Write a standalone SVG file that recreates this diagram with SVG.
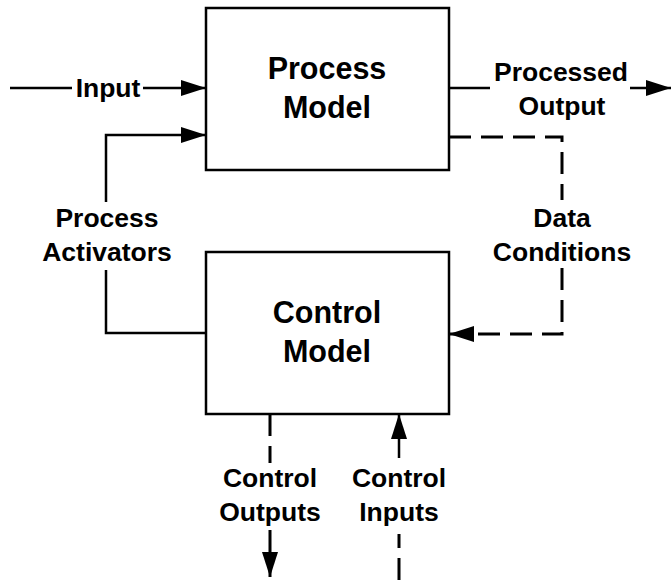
<svg xmlns="http://www.w3.org/2000/svg" width="671" height="580" viewBox="0 0 671 580">
<style>
.box{fill:#fff;stroke:#000;stroke-width:2.5}
.ln{fill:none;stroke:#000;stroke-width:2.5}
.dl{fill:none;stroke:#000;stroke-width:3;stroke-dasharray:22 10}
.bt{font-family:"Liberation Sans",Arial,sans-serif;font-weight:bold;font-size:30.5px;text-anchor:middle;fill:#000}
.lt{font-family:"Liberation Sans",Arial,sans-serif;font-weight:bold;font-size:26.5px;text-anchor:middle;fill:#000}
</style>
<defs>
<marker id="ah" markerUnits="userSpaceOnUse" markerWidth="25" markerHeight="17" refX="25" refY="8" orient="auto" viewBox="0 0 25 16">
<path d="M0,0 L25,8 L0,16 z" fill="#000"/>
</marker>
</defs>
<g id="connectors">
<path class="ln" d="M10,88 H72"/>
<path class="ln" d="M143,88 H206" marker-end="url(#ah)"/>
<path class="ln" d="M206,333 H106 V270"/>
<path class="ln" d="M106,202 V135 H206" marker-end="url(#ah)"/>
<path class="ln" d="M449,88 H490"/>
<path class="ln" d="M630,88 H671" marker-end="url(#ah)"/>
<path class="dl" d="M449,137 H562 V200"/>
<path class="dl" d="M562,268 V334 H449" marker-end="url(#ah)"/>
<path class="dl" d="M270,414 V463"/>
<path class="dl" d="M270,530 V577" marker-end="url(#ah)"/>
<path class="ln" d="M399,458 V414" marker-end="url(#ah)"/>
<path class="dl" d="M399,580 V534"/>
<text class="lt" x="108" y="97">Input</text>
<text class="lt" x="561" y="81">Processed</text>
<text class="lt" x="562" y="115">Output</text>
<text class="lt" x="107" y="227">Process</text>
<text class="lt" x="107" y="261">Activators</text>
<text class="lt" x="562" y="227">Data</text>
<text class="lt" x="562" y="261">Conditions</text>
<text class="lt" x="270" y="487">Control</text>
<text class="lt" x="270" y="521">Outputs</text>
<text class="lt" x="399" y="487">Control</text>
<text class="lt" x="399" y="521">Inputs</text>
</g>
<g id="process-model">
<rect class="box" x="206" y="8" width="243" height="162"/>
<text class="bt" x="327" y="79">Process</text>
<text class="bt" x="327" y="118">Model</text>
</g>
<g id="control-model">
<rect class="box" x="206" y="252" width="243" height="162"/>
<text class="bt" x="327" y="323">Control</text>
<text class="bt" x="327" y="362">Model</text>
</g>
</svg>
